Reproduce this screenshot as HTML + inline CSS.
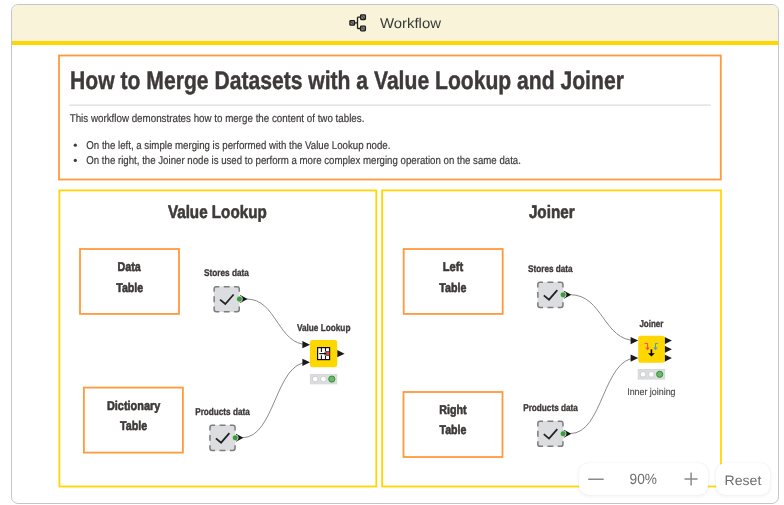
<!DOCTYPE html>
<html><head><meta charset="utf-8"><title>Workflow</title>
<style>
html,body{margin:0;padding:0;background:#fff;width:784px;height:505px;overflow:hidden}
body{font-family:"Liberation Sans",sans-serif;position:relative}
.frame{position:absolute;left:11px;top:4px;width:766px;height:498px;border:1px solid #c4c6ca;border-radius:7px;overflow:hidden;background:#fff}
.hdr{position:absolute;left:0;top:0;width:766px;height:36px;background:#f9f3da}
.hdrline{position:absolute;left:0;top:36px;width:766px;height:4px;background:#ffd700}
svg{position:absolute;left:0;top:0}
.zoom{position:absolute;left:579px;top:462.5px;width:128.5px;height:32.5px;background:#fff;border-radius:9px;box-shadow:0 0 1px rgba(0,0,0,0.12), 0 1px 4px rgba(0,0,0,0.07)}
.reset{position:absolute;left:716px;top:462.5px;width:54px;height:32.5px;background:#fff;border-radius:9px;box-shadow:0 0 1px rgba(0,0,0,0.12), 0 1px 4px rgba(0,0,0,0.07)}
</style></head>
<body>
<div class="frame">
  <div class="hdr"></div>
  <div class="hdrline"></div>
</div>
<svg width="784" height="505" viewBox="0 0 784 505" font-family="Liberation Sans, sans-serif" style="will-change:transform;text-rendering:geometricPrecision">
<!-- header icon -->
<g fill="none" stroke="#1c1c1c" stroke-width="1.3">
<rect x="349.9" y="20.6" width="4.6" height="4.6" rx="0.8" fill="#8a8a8a"/>
<rect x="360.6" y="14.9" width="4.8" height="4.6" rx="0.8" fill="#8a8a8a"/>
<rect x="360.6" y="26.2" width="4.8" height="4.6" rx="0.8" fill="#8a8a8a"/>
<path d="M354.5 22.9 H357.5 M357.5 17.2 V28.5 M357.5 17.2 H360.5 M357.5 28.5 H360.5"/>
<path d="M350.8 21.5 L353.6 24.3 M361.5 15.8 L364.5 18.6 M361.5 27.1 L364.5 29.9" stroke-width="0.8"/>
</g>
<!-- title annotation -->
<rect x="59" y="55.5" width="661.8" height="124" fill="none" stroke="#ff9a3c" stroke-width="1.8"/>
<rect x="69.3" y="104.6" width="641.5" height="1" fill="#d3d3d3"/>
<circle cx="75.3" cy="145.2" r="1.6" fill="#3e3a39"/>
<circle cx="75.3" cy="160.4" r="1.6" fill="#3e3a39"/>
<!-- yellow panels -->
<rect x="59.4" y="190.4" width="316.9" height="296.1" fill="none" stroke="#ffd700" stroke-width="1.8"/>
<rect x="382.1" y="190.4" width="338.9" height="296.1" fill="none" stroke="#ffd700" stroke-width="1.8"/>
<!-- orange boxes -->
<rect x="80" y="249.0" width="99" height="64.9" fill="none" stroke="#ff9a3c" stroke-width="1.8"/>
<rect x="83.9" y="387.6" width="99" height="65" fill="none" stroke="#ff9a3c" stroke-width="1.8"/>
<rect x="403.7" y="249.0" width="99" height="64.9" fill="none" stroke="#ff9a3c" stroke-width="1.8"/>
<rect x="403.5" y="392" width="99" height="65" fill="none" stroke="#ff9a3c" stroke-width="1.8"/>
<!-- connections -->
<g fill="none" stroke="#8a8a8a" stroke-width="1">
<path d="M246.5 299 C277.2 299 277.2 344.7 308 344.7"/>
<path d="M242.3 437.7 C275.1 437.7 275.1 362.3 308 362.3"/>
<path d="M570.2 294.7 C603.1 294.7 603.1 340.6 636 340.6"/>
<path d="M570.2 433.6 C603.1 433.6 603.1 358.1 636 358.1"/>
</g>
<g>
<rect x="213.9" y="286.4" width="25.6" height="25.6" rx="2.5" fill="#dcdde0"/>
<path d="M214.15 291.79999999999995 V288.84999999999997 Q214.15 286.65 216.35 286.65 H219.3 M223.75000000000003 286.65 H229.65 M234.1 286.65 H237.05 Q239.25 286.65 239.25 288.84999999999997 V291.79999999999995 M239.25 296.25 V302.15 M239.25 306.6 V309.55 Q239.25 311.75 237.05 311.75 H234.1 M229.65 311.75 H223.75000000000003 M219.3 311.75 H216.35 Q214.15 311.75 214.15 309.55 V306.6 M214.15 302.15 V296.25" fill="none" stroke="#7d7d7d" stroke-width="1.5" stroke-linejoin="round"/>
<path d="M220.1 299.59999999999997 L225.3 304.0 L233.6 294.5" fill="none" stroke="#222" stroke-width="1.75"/>
<path d="M240.20000000000002 295.09999999999997 L247.60000000000002 299.09999999999997 L240.20000000000002 303.09999999999997 Z" fill="#141414"/>
<circle cx="239.4" cy="299.09999999999997" r="3.0" fill="#3e9a3e" stroke="#f4f4f4" stroke-width="0.7"/>
</g>
<g>
<rect x="209.7" y="425.1" width="25.6" height="25.6" rx="2.5" fill="#dcdde0"/>
<path d="M209.95 430.5 V427.55 Q209.95 425.35 212.14999999999998 425.35 H215.1 M219.55 425.35 H225.45 M229.89999999999998 425.35 H232.85 Q235.04999999999998 425.35 235.04999999999998 427.55 V430.5 M235.04999999999998 434.95000000000005 V440.85 M235.04999999999998 445.30000000000007 V448.25000000000006 Q235.04999999999998 450.45000000000005 232.85 450.45000000000005 H229.89999999999998 M225.45 450.45000000000005 H219.55 M215.1 450.45000000000005 H212.14999999999998 Q209.95 450.45000000000005 209.95 448.25000000000006 V445.30000000000007 M209.95 440.85 V434.95000000000005" fill="none" stroke="#7d7d7d" stroke-width="1.5" stroke-linejoin="round"/>
<path d="M215.89999999999998 438.3 L221.1 442.70000000000005 L229.39999999999998 433.20000000000005" fill="none" stroke="#222" stroke-width="1.75"/>
<path d="M236.0 433.8 L243.39999999999998 437.8 L236.0 441.8 Z" fill="#141414"/>
<circle cx="235.2" cy="437.8" r="3.0" fill="#3e9a3e" stroke="#f4f4f4" stroke-width="0.7"/>
</g>
<g>
<rect x="537.6" y="282.1" width="25.6" height="25.6" rx="2.5" fill="#dcdde0"/>
<path d="M537.85 287.5 V284.55 Q537.85 282.35 540.0500000000001 282.35 H543.0 M547.4499999999999 282.35 H553.35 M557.8000000000001 282.35 H560.75 Q562.95 282.35 562.95 284.55 V287.5 M562.95 291.95000000000005 V297.85 M562.95 302.30000000000007 V305.25000000000006 Q562.95 307.45000000000005 560.75 307.45000000000005 H557.8000000000001 M553.35 307.45000000000005 H547.4499999999999 M543.0 307.45000000000005 H540.0500000000001 Q537.85 307.45000000000005 537.85 305.25000000000006 V302.30000000000007 M537.85 297.85 V291.95000000000005" fill="none" stroke="#7d7d7d" stroke-width="1.5" stroke-linejoin="round"/>
<path d="M543.8000000000001 295.3 L549.0 299.70000000000005 L557.3000000000001 290.20000000000005" fill="none" stroke="#222" stroke-width="1.75"/>
<path d="M563.9 290.8 L571.3000000000001 294.8 L563.9 298.8 Z" fill="#141414"/>
<circle cx="563.1" cy="294.8" r="3.0" fill="#3e9a3e" stroke="#f4f4f4" stroke-width="0.7"/>
</g>
<g>
<rect x="537.6" y="421.0" width="25.6" height="25.6" rx="2.5" fill="#dcdde0"/>
<path d="M537.85 426.4 V423.45 Q537.85 421.25 540.0500000000001 421.25 H543.0 M547.4499999999999 421.25 H553.35 M557.8000000000001 421.25 H560.75 Q562.95 421.25 562.95 423.45 V426.4 M562.95 430.85 V436.75 M562.95 441.20000000000005 V444.15000000000003 Q562.95 446.35 560.75 446.35 H557.8000000000001 M553.35 446.35 H547.4499999999999 M543.0 446.35 H540.0500000000001 Q537.85 446.35 537.85 444.15000000000003 V441.20000000000005 M537.85 436.75 V430.85" fill="none" stroke="#7d7d7d" stroke-width="1.5" stroke-linejoin="round"/>
<path d="M543.8000000000001 434.2 L549.0 438.6 L557.3000000000001 429.1" fill="none" stroke="#222" stroke-width="1.75"/>
<path d="M563.9 429.7 L571.3000000000001 433.7 L563.9 437.7 Z" fill="#141414"/>
<circle cx="563.1" cy="433.7" r="3.0" fill="#3e9a3e" stroke="#f4f4f4" stroke-width="0.7"/>
</g>
<!-- value lookup node -->
<path d="M302.4 341.09999999999997 L310 344.7 L302.4 348.3 Z" fill="#1a1a1a"/><path d="M302.4 358.7 L310 362.3 L302.4 365.90000000000003 Z" fill="#1a1a1a"/><path d="M337.2 350.09999999999997 L344.59999999999997 353.7 L337.2 357.3 Z" fill="#1a1a1a"/>
<rect x="309.9" y="339.9" width="27.3" height="27.3" rx="2.7" fill="#ffd700"/>
<rect x="317.6" y="347.6" width="12" height="12" fill="#fff" stroke="#0c0c14" stroke-width="1.2"/>
<path d="M321.4 347.6 V352 M325.5 347.6 V351.4 M321.4 355.2 V359.6 M325.5 355.6 V359.6" stroke="#111" stroke-width="1.1"/>
<path d="M319.3 353.6 H325.2" stroke="#111" stroke-width="1.2"/>
<path d="M324.6 351.8 L326.6 353.6 L324.6 355.4 Z" fill="#111"/>
<rect x="326.1" y="351.4" width="3.4" height="4.2" fill="#e8404a" stroke="#2a1010" stroke-width="0.5"/>
<g>
<rect x="310.29999999999995" y="374.3" width="26.5" height="9.6" fill="#dcdde0" stroke="#d2d4d6" stroke-width="0.8"/>
<circle cx="315.2" cy="379.1" r="2.8" fill="#fff" stroke="#bdbdbd" stroke-width="0.7"/>
<circle cx="323.5" cy="379.1" r="2.8" fill="#fff" stroke="#c4c4c4" stroke-width="0.7"/>
<circle cx="331.79999999999995" cy="379.1" r="3.1" fill="#66bb66" stroke="#2f872f" stroke-width="0.9"/>
</g>
<!-- joiner node -->
<path d="M630.6 337.0 L638.2 340.6 L630.6 344.20000000000005 Z" fill="#1a1a1a"/><path d="M630.6 354.5 L638.2 358.1 L630.6 361.70000000000005 Z" fill="#1a1a1a"/><path d="M664.5 337.0 L671.9 340.6 L664.5 344.20000000000005 Z" fill="#1a1a1a"/><path d="M664.5 345.7 L671.9 349.3 L664.5 352.90000000000003 Z" fill="#1a1a1a"/><path d="M664.5 354.5 L671.9 358.1 L664.5 361.70000000000005 Z" fill="#1a1a1a"/>
<rect x="638.2" y="335.8" width="26.6" height="27" rx="2.7" fill="#ffd700"/>
<path d="M644.6 343.4 H647.6 V348" fill="none" stroke="#e8505b" stroke-width="1"/>
<path d="M645.3 347.4 H649.9 L647.6 350.2 Z" fill="#e8505b"/>
<path d="M657.9 343.4 H655.5 V348" fill="none" stroke="#3ea0d0" stroke-width="1"/>
<path d="M653.2 347.4 H657.8 L655.5 350.2 Z" fill="#3ea0d0"/>
<path d="M651.4 349.3 V354" fill="none" stroke="#000" stroke-width="1.6"/>
<path d="M648 353.2 H654.9 L651.4 356.5 Z" fill="#000"/>
<g>
<rect x="638.1999999999999" y="369.5" width="26.5" height="9.6" fill="#dcdde0" stroke="#d2d4d6" stroke-width="0.8"/>
<circle cx="643.0999999999999" cy="374.3" r="2.8" fill="#fff" stroke="#bdbdbd" stroke-width="0.7"/>
<circle cx="651.4" cy="374.3" r="2.8" fill="#fff" stroke="#c4c4c4" stroke-width="0.7"/>
<circle cx="659.6999999999999" cy="374.3" r="3.1" fill="#66bb66" stroke="#2f872f" stroke-width="0.9"/>
</g>
<text x="70.12" y="88.68" font-size="25.51" font-weight="bold" fill="#3e3a39" stroke="#3e3a39" stroke-width="0.45" stroke-linejoin="round" textLength="553.74" lengthAdjust="spacingAndGlyphs">How to Merge Datasets with a Value Lookup and Joiner</text>
<text x="69.7" y="121.8" font-size="11.3" font-weight="normal" fill="#3e3a39" stroke="#3e3a39" stroke-width="0.2" stroke-linejoin="round" textLength="294.72" lengthAdjust="spacingAndGlyphs">This workflow demonstrates how to merge the content of two tables.</text>
<text x="86.3" y="148.8" font-size="11.3" font-weight="normal" fill="#3e3a39" stroke="#3e3a39" stroke-width="0.2" stroke-linejoin="round" textLength="304.11" lengthAdjust="spacingAndGlyphs">On the left, a simple merging is performed with the Value Lookup node.</text>
<text x="86.3" y="163.9" font-size="11.3" font-weight="normal" fill="#3e3a39" stroke="#3e3a39" stroke-width="0.2" stroke-linejoin="round" textLength="434.61" lengthAdjust="spacingAndGlyphs">On the right, the Joiner node is used to perform a more complex merging operation on the same data.</text>
<text x="167.9" y="217.7" font-size="18.02" font-weight="bold" fill="#3e3a39" stroke="#3e3a39" stroke-width="0.6" stroke-linejoin="round" textLength="98.82" lengthAdjust="spacingAndGlyphs">Value Lookup</text>
<text x="528.9" y="217.7" font-size="18.02" font-weight="bold" fill="#3e3a39" stroke="#3e3a39" stroke-width="0.6" stroke-linejoin="round" textLength="45.72" lengthAdjust="spacingAndGlyphs">Joiner</text>
<text x="117.5" y="270.6" font-size="12.8" font-weight="bold" fill="#3e3a39" stroke="#3e3a39" stroke-width="0.6" stroke-linejoin="round" textLength="23.31" lengthAdjust="spacingAndGlyphs">Data</text>
<text x="116.2" y="291.6" font-size="12.8" font-weight="bold" fill="#3e3a39" stroke="#3e3a39" stroke-width="0.6" stroke-linejoin="round" textLength="27.08" lengthAdjust="spacingAndGlyphs">Table</text>
<text x="106.9" y="409.7" font-size="12.8" font-weight="bold" fill="#3e3a39" stroke="#3e3a39" stroke-width="0.6" stroke-linejoin="round" textLength="53.39" lengthAdjust="spacingAndGlyphs">Dictionary</text>
<text x="120.1" y="429.6" font-size="12.8" font-weight="bold" fill="#3e3a39" stroke="#3e3a39" stroke-width="0.6" stroke-linejoin="round" textLength="27.08" lengthAdjust="spacingAndGlyphs">Table</text>
<text x="442.8" y="270.7" font-size="12.8" font-weight="bold" fill="#3e3a39" stroke="#3e3a39" stroke-width="0.6" stroke-linejoin="round" textLength="20.41" lengthAdjust="spacingAndGlyphs">Left</text>
<text x="439.3" y="291.7" font-size="12.8" font-weight="bold" fill="#3e3a39" stroke="#3e3a39" stroke-width="0.6" stroke-linejoin="round" textLength="27.08" lengthAdjust="spacingAndGlyphs">Table</text>
<text x="439.3" y="413.6" font-size="12.8" font-weight="bold" fill="#3e3a39" stroke="#3e3a39" stroke-width="0.6" stroke-linejoin="round" textLength="27.4" lengthAdjust="spacingAndGlyphs">Right</text>
<text x="439.5" y="433.6" font-size="12.8" font-weight="bold" fill="#3e3a39" stroke="#3e3a39" stroke-width="0.6" stroke-linejoin="round" textLength="26.98" lengthAdjust="spacingAndGlyphs">Table</text>
<text x="204.08" y="275.82" font-size="9.8" font-weight="bold" fill="#3e3a39" stroke="#3e3a39" stroke-width="0.35" stroke-linejoin="round" textLength="44.78" lengthAdjust="spacingAndGlyphs">Stores data</text>
<text x="195.18" y="414.82" font-size="9.8" font-weight="bold" fill="#3e3a39" stroke="#3e3a39" stroke-width="0.35" stroke-linejoin="round" textLength="54.56" lengthAdjust="spacingAndGlyphs">Products data</text>
<text x="296.88" y="330.72" font-size="9.8" font-weight="bold" fill="#3e3a39" stroke="#3e3a39" stroke-width="0.35" stroke-linejoin="round" textLength="53.56" lengthAdjust="spacingAndGlyphs">Value Lookup</text>
<text x="528.07" y="271.82" font-size="9.8" font-weight="bold" fill="#3e3a39" stroke="#3e3a39" stroke-width="0.35" stroke-linejoin="round" textLength="44.58" lengthAdjust="spacingAndGlyphs">Stores data</text>
<text x="523.17" y="410.82" font-size="9.8" font-weight="bold" fill="#3e3a39" stroke="#3e3a39" stroke-width="0.35" stroke-linejoin="round" textLength="54.66" lengthAdjust="spacingAndGlyphs">Products data</text>
<text x="639.38" y="327.02" font-size="9.8" font-weight="bold" fill="#3e3a39" stroke="#3e3a39" stroke-width="0.35" stroke-linejoin="round" textLength="24.06" lengthAdjust="spacingAndGlyphs">Joiner</text>
<text x="627.18" y="395.03" font-size="9.81" font-weight="normal" fill="#4a4a4a" stroke="#4a4a4a" stroke-width="0.15" stroke-linejoin="round" textLength="48.34" lengthAdjust="spacingAndGlyphs">Inner joining</text>
</svg>
<div class="zoom"></div>
<div class="reset"></div>
<svg width="784" height="505" viewBox="0 0 784 505" font-family="Liberation Sans, sans-serif" style="pointer-events:none;text-rendering:geometricPrecision">
<path d="M588.2 479.2 H603.7 M684.5 479 H697.6 M691.1 472.4 V485.6" stroke="#8a8a8a" stroke-width="1.5" fill="none"/>
<text x="379.9" y="27.6" font-size="14.1" font-weight="normal" fill="#3a3a3a" textLength="61.11" lengthAdjust="spacingAndGlyphs">Workflow</text>
<text x="629.6" y="484.1" font-size="14.83" font-weight="normal" fill="#6e6e6e" textLength="27.42" lengthAdjust="spacingAndGlyphs">90%</text>
<text x="724.5" y="484.7" font-size="13.66" font-weight="normal" fill="#6e6e6e" textLength="36.81" lengthAdjust="spacingAndGlyphs">Reset</text>
</svg>
</body></html>
